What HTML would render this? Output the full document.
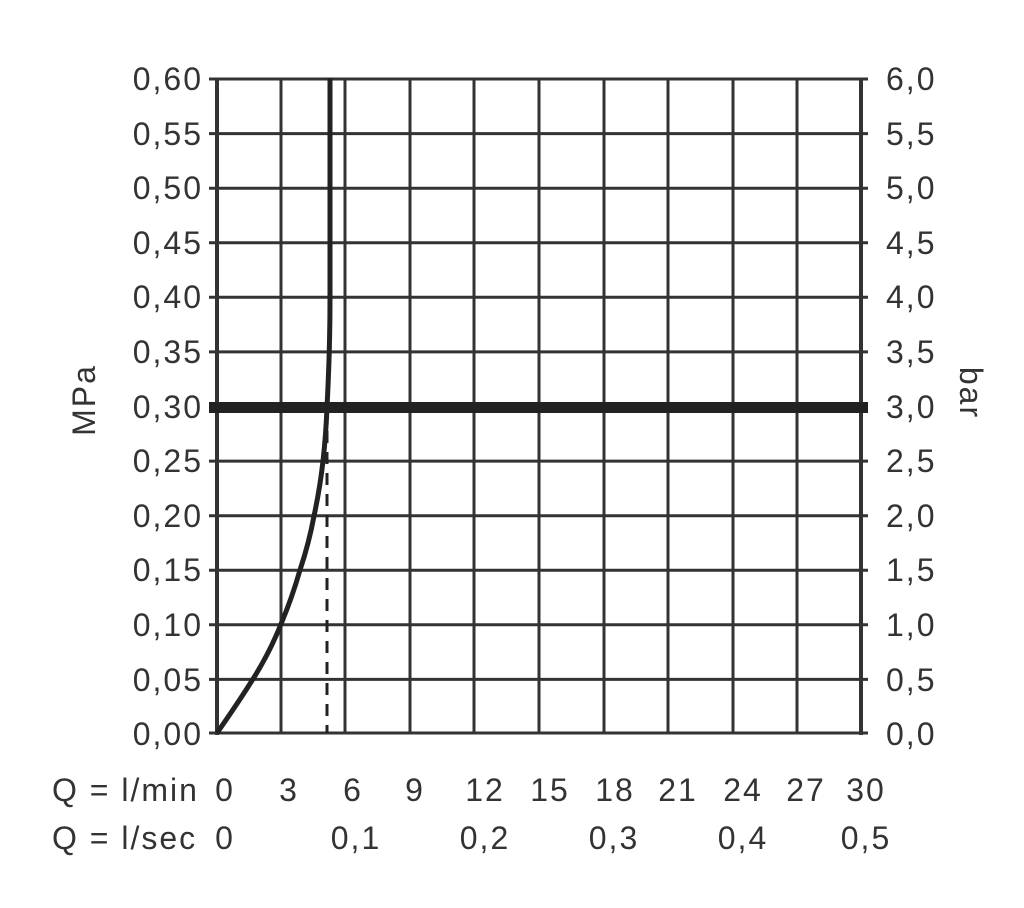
<!DOCTYPE html>
<html><head><style>
body{margin:0;background:#fff;}
svg text{font-family:"Liberation Sans",sans-serif;font-size:32px;letter-spacing:2px;fill:#333;}
</style></head><body>
<svg width="1024" height="903" xmlns="http://www.w3.org/2000/svg">
<g stroke="#333" stroke-width="3">
<line x1="281" y1="79" x2="281" y2="733"/><line x1="345" y1="79" x2="345" y2="733"/>
<line x1="410" y1="79" x2="410" y2="733"/><line x1="474" y1="79" x2="474" y2="733"/>
<line x1="539" y1="79" x2="539" y2="733"/><line x1="604" y1="79" x2="604" y2="733"/>
<line x1="668" y1="79" x2="668" y2="733"/><line x1="733" y1="79" x2="733" y2="733"/>
<line x1="797" y1="79" x2="797" y2="733"/>
<line x1="209" y1="79" x2="868" y2="79"/><line x1="209" y1="133.6" x2="868" y2="133.6"/>
<line x1="209" y1="188.2" x2="868" y2="188.2"/><line x1="209" y1="242.8" x2="868" y2="242.8"/>
<line x1="209" y1="297.3" x2="868" y2="297.3"/><line x1="209" y1="351.9" x2="868" y2="351.9"/>
<line x1="209" y1="461.1" x2="868" y2="461.1"/>
<line x1="209" y1="515.7" x2="868" y2="515.7"/><line x1="209" y1="570.3" x2="868" y2="570.3"/>
<line x1="209" y1="624.8" x2="868" y2="624.8"/><line x1="209" y1="679.4" x2="868" y2="679.4"/>
<line x1="209" y1="733" x2="868" y2="733"/>
</g>
<line x1="217" y1="78" x2="217" y2="735" stroke="#333" stroke-width="4"/>
<line x1="861" y1="78" x2="861" y2="735" stroke="#333" stroke-width="4"/>
<line x1="209" y1="407.5" x2="868" y2="407.5" stroke="#222" stroke-width="11"/>
<line x1="327" y1="410" x2="327" y2="733" stroke="#222" stroke-width="3" stroke-dasharray="12,9"/>
<path d="M217,733 Q240,700 253,679 Q270,652 281,624 Q292,598 300,570 Q309,543 314,516 Q320,488 323,461 Q326,434 327,407 Q330,350 330,300 L330,78" fill="none" stroke="#222" stroke-width="5"/>
<g text-anchor="end">
<text x="203" y="90">0,60</text><text x="203" y="145">0,55</text><text x="203" y="199">0,50</text>
<text x="203" y="254">0,45</text><text x="203" y="308">0,40</text><text x="203" y="363">0,35</text>
<text x="203" y="418">0,30</text><text x="203" y="472">0,25</text><text x="203" y="527">0,20</text>
<text x="203" y="581">0,15</text><text x="203" y="636">0,10</text><text x="203" y="691">0,05</text>
<text x="203" y="745">0,00</text>
</g>
<g>
<text x="886" y="90">6,0</text><text x="886" y="145">5,5</text><text x="886" y="199">5,0</text>
<text x="886" y="254">4,5</text><text x="886" y="308">4,0</text><text x="886" y="363">3,5</text>
<text x="886" y="418">3,0</text><text x="886" y="472">2,5</text><text x="886" y="527">2,0</text>
<text x="886" y="581">1,5</text><text x="886" y="636">1,0</text><text x="886" y="691">0,5</text>
<text x="886" y="745">0,0</text>
</g>
<text transform="translate(95,400) rotate(-90)" text-anchor="middle">MPa</text>
<text transform="translate(960,393) rotate(90)" text-anchor="middle">bar</text>
<text x="52" y="801">Q = l/min</text>
<text x="52" y="849">Q = l/sec</text>
<g text-anchor="middle">
<text x="225" y="801">0</text><text x="289" y="801">3</text><text x="353" y="801">6</text>
<text x="415" y="801">9</text><text x="485" y="801">12</text><text x="550" y="801">15</text>
<text x="615" y="801">18</text><text x="678" y="801">21</text><text x="743" y="801">24</text>
<text x="806" y="801">27</text><text x="866" y="801">30</text>
<text x="225" y="849">0</text><text x="356" y="849">0,1</text><text x="485" y="849">0,2</text>
<text x="614" y="849">0,3</text><text x="743" y="849">0,4</text><text x="866" y="849">0,5</text>
</g>
</svg>
</body></html>
